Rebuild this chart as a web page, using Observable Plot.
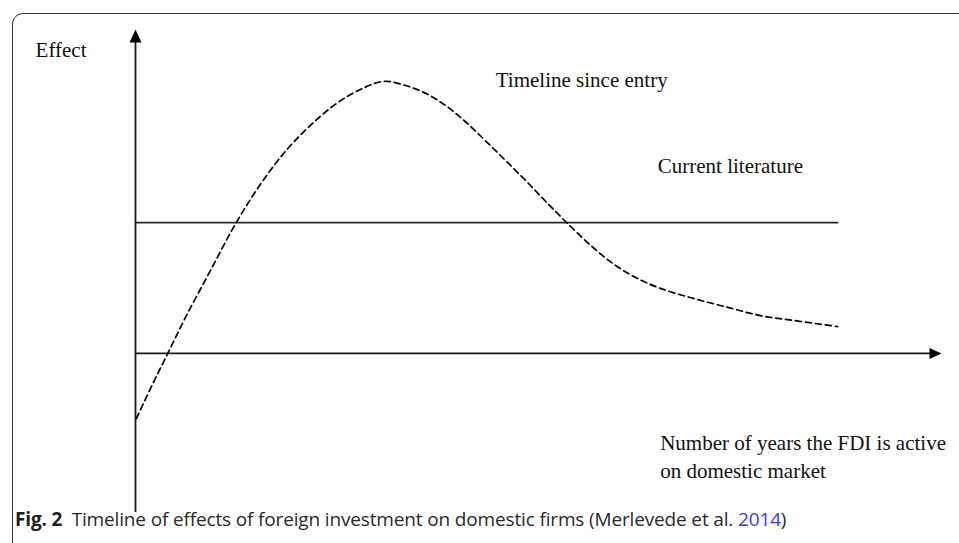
<!DOCTYPE html>
<html>
<head>
<meta charset="utf-8">
<script src="https://cdn.jsdelivr.net/npm/d3@7"></script>
<script src="https://cdn.jsdelivr.net/npm/@observablehq/plot@0.6"></script>
<style>
  html, body { margin: 0; padding: 0; width: 959px; height: 543px; overflow: hidden; background: #fff; }
  #frame { position: absolute; left: 12px; top: 13px; width: 1100px; height: 700px;
           border: 1.5px solid #333; border-top-left-radius: 11px; box-sizing: border-box; }
  #chart { position: absolute; left: 0; top: 0; }
  #caption { position: absolute; left: 15px; top: 506px; font-family: "Open Sans", sans-serif;
             font-size: 19px; color: #2a2a2a; white-space: nowrap; letter-spacing: -0.15px; }
  #caption b { font-weight: 700; color: #231f20; }
  #caption .ref { color: #3a3ae6; }
</style>
</head>
<body>
<div id="frame"></div>
<div id="chart"></div>
<div id="caption"><b>Fig. 2</b>&ensp;Timeline of effects of foreign investment on domestic firms (Merlevede et al. <span class="ref">2014</span>)</div>
<script>
// Dashed curve: "Timeline since entry"
const curveX = [0.01, 0.21, 0.40, 0.62, 0.93, 1.25, 1.55, 1.86, 2.17, 2.48, 2.79, 3.08, 3.35, 3.60, 3.85, 4.09, 4.34, 4.59, 4.84, 5.09, 5.35, 5.65, 5.92, 6.20, 6.51, 6.92, 7.35, 7.75, 8.16, 8.71];
const curveY = [-2.01, -0.96, 0, 1.11, 2.56, 4.04, 5.22, 6.24, 7.04, 7.69, 8.15, 8.40, 8.27, 8.03, 7.65, 7.16, 6.57, 5.96, 5.34, 4.69, 4.04, 3.33, 2.78, 2.35, 2.01, 1.70, 1.42, 1.17, 1.02, 0.83];

// Solid line: "Current literature"
const literatureX = [0, 8.71];
const literatureY = [4.04, 4.04];

// Axes extents
const xAxisEnd = 10;
const yAxisTop = 10;
const yAxisBottom = -4.91;

// Labels
const labelText = ["Effect", "Timeline since entry", "Current literature", "Number of years the FDI is active", "on domestic market"];
const labelX = [-1.24, 4.47, 6.48, 6.51, 6.51];
const labelY = [9.14, 8.21, 5.56, -2.99, -3.86];

const curveData = curveX.map((x, i) => ({x, y: curveY[i]}));
const litData = literatureX.map((x, i) => ({x, y: literatureY[i]}));
const labels = labelText.map((t, i) => ({t, x: labelX[i], y: labelY[i]}));

const arrowUp = { draw(ctx) { ctx.moveTo(0, 0); ctx.lineTo(-6, 13); ctx.lineTo(6, 13); ctx.closePath(); } };
const arrowRight = { draw(ctx) { ctx.moveTo(0, 0); ctx.lineTo(-12, -5.5); ctx.lineTo(-12, 5.5); ctx.closePath(); } };

const chart = Plot.plot({
  width: 959,
  height: 512,
  marginLeft: 135,
  marginRight: 18,
  marginTop: 29,
  marginBottom: 0,
  x: {domain: [0, xAxisEnd], axis: null},
  y: {domain: [yAxisBottom, yAxisTop], axis: null},
  style: {background: "transparent", overflow: "visible"},
  marks: [
    Plot.ruleX([0], {y1: yAxisBottom, y2: yAxisTop - 0.3, stroke: "#1a1a1a", strokeWidth: 1.8}),
    Plot.ruleY([0], {x1: 0, x2: xAxisEnd - 0.1, stroke: "#1a1a1a", strokeWidth: 1.8}),
    Plot.dot([{x: 0, y: yAxisTop}], {x: "x", y: "y", symbol: arrowUp, fill: "#000", stroke: null, r: 6}),
    Plot.dot([{x: xAxisEnd, y: 0}], {x: "x", y: "y", symbol: arrowRight, fill: "#000", stroke: null, r: 6}),
    Plot.line(litData, {x: "x", y: "y", stroke: "#2a2a2a", strokeWidth: 1.8}),
    Plot.line(curveData, {x: "x", y: "y", curve: "catmull-rom", stroke: "#000", strokeWidth: 1.7, strokeDasharray: "6,4"}),
    Plot.text(labels, {x: "x", y: "y", text: "t", textAnchor: "start", lineAnchor: "bottom",
      fontFamily: "Liberation Serif", fontSize: 21, fill: "#111"})
  ]
});
document.getElementById("chart").appendChild(chart);
</script>
</body>
</html>
